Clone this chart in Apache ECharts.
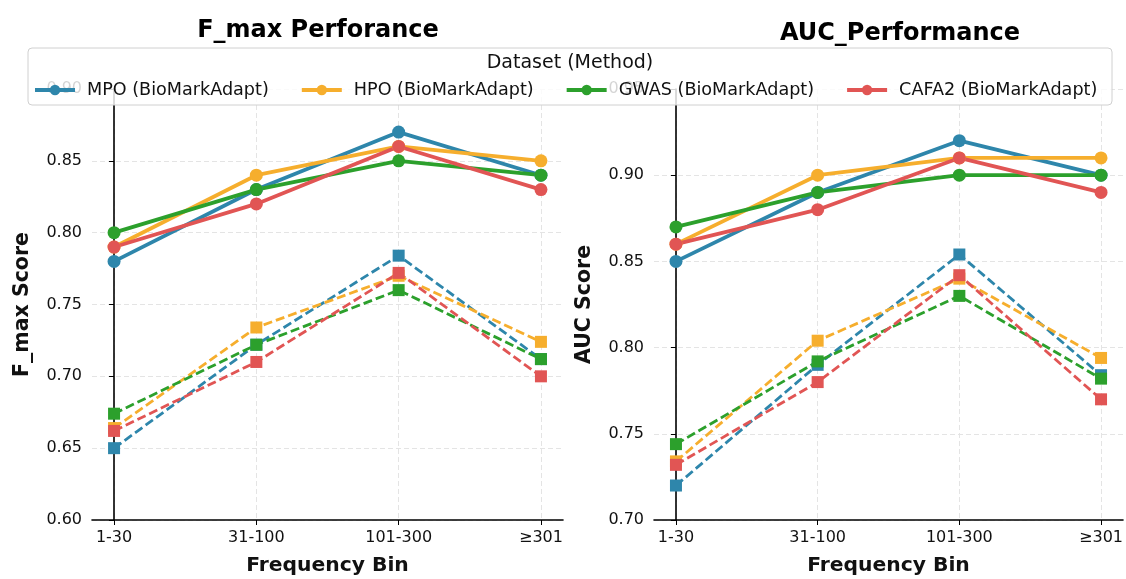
<!DOCTYPE html>
<html>
<head>
<meta charset="utf-8">
<script src="https://cdn.jsdelivr.net/npm/echarts@6/dist/echarts.min.js"></script>
<style>
html,body{margin:0;padding:0;background:#fff;}
#c{width:1126px;height:579px;}
</style>
</head>
<body>
<div id="c"></div>
<script>
// ---- data ----
const categories = ['1-30', '31-100', '101-300', '≥301'];
const datasetNames = ['MPO (BioMarkAdapt)', 'HPO (BioMarkAdapt)', 'GWAS (BioMarkAdapt)', 'CAFA2 (BioMarkAdapt)'];
const baselineNames = ['MPO (Baseline)', 'HPO (Baseline)', 'GWAS (Baseline)', 'CAFA2 (Baseline)'];
const colors = ['#2E86AB', '#F6AE2D', '#2CA02C', '#E15554'];

// F_max, adapted (solid)
const fmaxMPO  = [0.78, 0.83, 0.87, 0.84];
const fmaxHPO  = [0.79, 0.84, 0.86, 0.85];
const fmaxGWAS = [0.80, 0.83, 0.85, 0.84];
const fmaxCAFA = [0.79, 0.82, 0.86, 0.83];
// F_max, baseline (dashed)
const fmaxBaseMPO  = [0.650, 0.722, 0.784, 0.712];
const fmaxBaseHPO  = [0.664, 0.734, 0.770, 0.724];
const fmaxBaseGWAS = [0.674, 0.722, 0.760, 0.712];
const fmaxBaseCAFA = [0.662, 0.710, 0.772, 0.700];

// AUC, adapted (solid)
const aucMPO  = [0.85, 0.89, 0.92, 0.90];
const aucHPO  = [0.86, 0.90, 0.91, 0.91];
const aucGWAS = [0.87, 0.89, 0.90, 0.90];
const aucCAFA = [0.86, 0.88, 0.91, 0.89];
// AUC, baseline (dashed)
const aucBaseMPO  = [0.720, 0.790, 0.854, 0.784];
const aucBaseHPO  = [0.734, 0.804, 0.840, 0.794];
const aucBaseGWAS = [0.744, 0.792, 0.830, 0.782];
const aucBaseCAFA = [0.732, 0.780, 0.842, 0.770];

// y tick settings
const fmaxTicks = {min: 0.60, max: 0.90, interval: 0.05};
const aucTicks  = {min: 0.70, max: 0.95, interval: 0.05};

// ---- build ----
const FONT = 'DejaVu Sans';
const catIdx = categories.map((c, i) => i);

function xAxisFor(gridIndex) {
  return {
    type: 'value', gridIndex: gridIndex, min: -0.155, max: 3.155,
    axisLine: {show: true, lineStyle: {color: '#000', width: 1.6}},
    axisTick: {show: true, length: 5, lineStyle: {color: '#000', width: 1}, customValues: catIdx},
    axisLabel: {customValues: catIdx, formatter: v => categories[Math.round(v)], color: '#111',
      fontFamily: FONT, fontSize: 16, margin: 10},
    splitLine: {show: true, lineStyle: {color: '#e4e4e4', type: [5, 3], width: 1}},
    name: 'Frequency Bin', nameLocation: 'middle', nameGap: 36,
    nameTextStyle: {fontFamily: FONT, fontWeight: 'bold', fontSize: 20.3, color: '#111'}
  };
}
function yAxisFor(gridIndex, t, name) {
  return {
    type: 'value', gridIndex: gridIndex, min: t.min, max: t.max, interval: t.interval,
    axisLine: {show: true, lineStyle: {color: '#000', width: 1.6}},
    axisTick: {show: true, length: 5, lineStyle: {color: '#000', width: 1}},
    axisLabel: {formatter: v => v.toFixed(2), color: '#111', fontFamily: FONT, fontSize: 16,
      margin: 10},
    splitLine: {show: true, lineStyle: {color: '#e4e4e4', type: [5, 3], width: 1}},
    name: name, nameLocation: 'middle', nameGap: 59, nameRotate: 90,
    nameTextStyle: {fontFamily: FONT, fontWeight: 'bold', fontSize: 20.5, color: '#111'}
  };
}
function solid(name, vals, color, gi) {
  return {
    name: name, type: 'line', xAxisIndex: gi, yAxisIndex: gi,
    data: vals.map((v, i) => [i, v]),
    symbol: 'circle', symbolSize: 13,
    lineStyle: {color: color, width: 3.8},
    itemStyle: {color: color},
    emphasis: {disabled: true}, z: 3
  };
}
function dashed(name, vals, color, gi) {
  return {
    name: name, type: 'line', xAxisIndex: gi, yAxisIndex: gi,
    data: vals.map((v, i) => [i, v]),
    symbol: 'rect', symbolSize: 12,
    lineStyle: {color: color, width: 2.8, type: [9, 4]},
    itemStyle: {color: color},
    emphasis: {disabled: true}, z: 2
  };
}

const fmaxSolid = [fmaxMPO, fmaxHPO, fmaxGWAS, fmaxCAFA];
const fmaxDash  = [fmaxBaseMPO, fmaxBaseHPO, fmaxBaseGWAS, fmaxBaseCAFA];
const aucSolid  = [aucMPO, aucHPO, aucGWAS, aucCAFA];
const aucDash   = [aucBaseMPO, aucBaseHPO, aucBaseGWAS, aucBaseCAFA];

const series = [];
fmaxDash.forEach((d, k) => series.push(dashed(baselineNames[k], d, colors[k], 0)));
fmaxSolid.forEach((d, k) => series.push(solid(datasetNames[k], d, colors[k], 0)));
aucDash.forEach((d, k) => series.push(dashed(baselineNames[k], d, colors[k], 1)));
aucSolid.forEach((d, k) => series.push(solid(datasetNames[k], d, colors[k], 1)));

const chart = echarts.init(document.getElementById('c'), null, {renderer: 'canvas'});
chart.setOption({
  animation: false,
  backgroundColor: '#fff',
  title: [
    {text: 'F_max Perforance', left: 318, top: 19, textAlign: 'center', padding: 0,
     textStyle: {fontFamily: FONT, fontWeight: 'bold', fontSize: 24, color: '#000'}},
    {text: 'AUC_Performance', left: 900, top: 22, textAlign: 'center', padding: 0,
     textStyle: {fontFamily: FONT, fontWeight: 'bold', fontSize: 24, color: '#000'}},
    {text: 'Dataset (Method)', left: 570, top: 54, textAlign: 'center', padding: 0, z: 6,
     textStyle: {fontFamily: FONT, fontWeight: 'normal', fontSize: 19, color: '#111'}}
  ],
  grid: [
    {left: 92, right: 1126 - 563, top: 89, bottom: 579 - 520, outerBoundsMode: 'none', containLabel: false},
    {left: 654, right: 3, top: 89, bottom: 579 - 520, outerBoundsMode: 'none', containLabel: false}
  ],
  xAxis: [xAxisFor(0), xAxisFor(1)],
  yAxis: [yAxisFor(0, fmaxTicks, 'F_max Score'), yAxisFor(1, aucTicks, 'AUC Score')],
  legend: {
    data: datasetNames, left: 33, top: 81, padding: 0, itemWidth: 40, itemHeight: 13, itemGap: 31,
    lineStyle: {width: 4},
    textStyle: {fontFamily: FONT, fontSize: 17.6, color: '#111', padding: [0, 0, 0, 7]},
    z: 6, selectedMode: false
  },
  graphic: [{
    type: 'rect', z: 5, silent: true,
    shape: {x: 28, y: 48, width: 1084, height: 57, r: 4},
    style: {fill: 'rgba(255,255,255,0.82)', stroke: '#d0d0d0', lineWidth: 1}
  }],
  series: series
});
</script>
</body>
</html>
